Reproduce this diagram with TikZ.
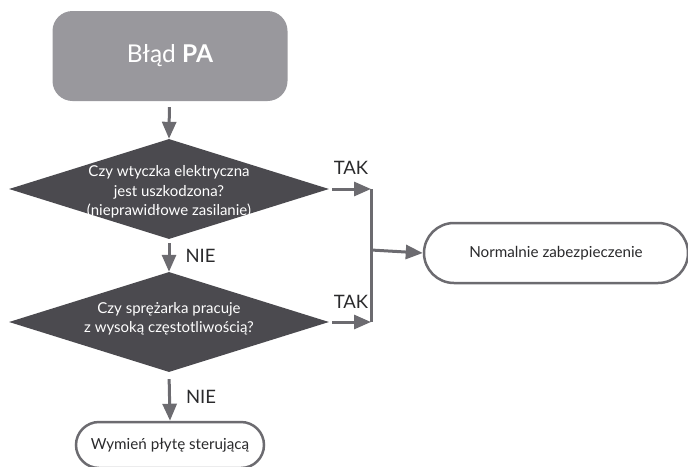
\documentclass[tikz,border=0pt]{standalone}
\usepackage{fontspec}
\setmainfont{Lato}
\usetikzlibrary{arrows.meta,positioning,shapes.geometric,shapes.misc}
\definecolor{startgray}{HTML}{99989D}
\definecolor{qdark}{HTML}{4B4A4F}
\definecolor{flowgray}{HTML}{6C6B70}
\definecolor{inkgray}{HTML}{2A2A2C}
\tikzset{
  >={Triangle[length=17pt,width=14pt]},
  % bloki
  start/.style={rectangle,rounded corners=20pt,fill=startgray,text=white,
                minimum width=235pt,minimum height=90pt,inner sep=0pt,
                font=\fontsize{24.5}{28}\selectfont},
  q/.style={diamond,fill=qdark,minimum width=320pt,minimum height=100pt,
            inner sep=0pt},
  qt/.style={text=white,align=center,inner sep=0pt,
             font=\fontsize{15}{19.5}\selectfont},
  term/.style={rounded rectangle,draw=flowgray,line width=2.5pt,fill=white,
               text=inkgray,inner sep=0pt,font=\fontsize{15.2}{18}\selectfont},
  % strzałki
  fl/.style={->,draw=flowgray,line width=3pt},
  bar/.style={draw=flowgray,line width=3pt},
  yn/.style={text=inkgray,inner sep=1pt,font=\fontsize{18.5}{20}\selectfont},
}
\begin{document}
\begin{tikzpicture}[x=1pt,y=-1pt]
  \useasboundingbox (0,0) rectangle (688,466);
  \node[start] (err) at (170,56) {Błąd {\bfseries PA}};
  \node[q] (q1) at (169,189) {};
  \node[qt] (q1t) at (169,192) {Czy wtyczka elektryczna\\jest uszkodzona?\\(nieprawidłowe zasilanie)};
  \node[q] (q2) at (169,322) {};
  \node[qt] (q2t) at (169,319) {Czy sprężarka pracuje\\z wysoką częstotliwością?};
  \node[term,minimum width=264pt,minimum height=60pt] (safe) at (556,253) {Normalnie zabezpieczenie};
  \node[term,minimum width=188pt,minimum height=46pt] (board) at (170,445) {Wymień płytę sterującą};
  \coordinate (j1) at (371,189);
  \coordinate (j2) at (371,322);
  \coordinate (jm) at (371,250);
  \node[yn] (tak1) at (351,168) {TAK};
  \node[yn] (tak2) at (351,302) {TAK};
  \draw[fl,shorten <=6pt] (err) -- (q1.north);
  \draw[fl,shorten <=4pt] (q1.south) -- node[yn,right=14pt]{NIE} (q2.north);
  \draw[fl,shorten <=7pt] (q2.south) -- node[yn,right=14pt]{NIE} (board.north);
  \draw[fl,shorten <=3pt] (q1.east) -- (j1);
  \draw[fl,shorten <=3pt] (q2.east) -- (j2);
  \draw[bar] (j1) -- (j2);
  \draw[fl] (jm) -- (safe.west);
\end{tikzpicture}
\end{document}
